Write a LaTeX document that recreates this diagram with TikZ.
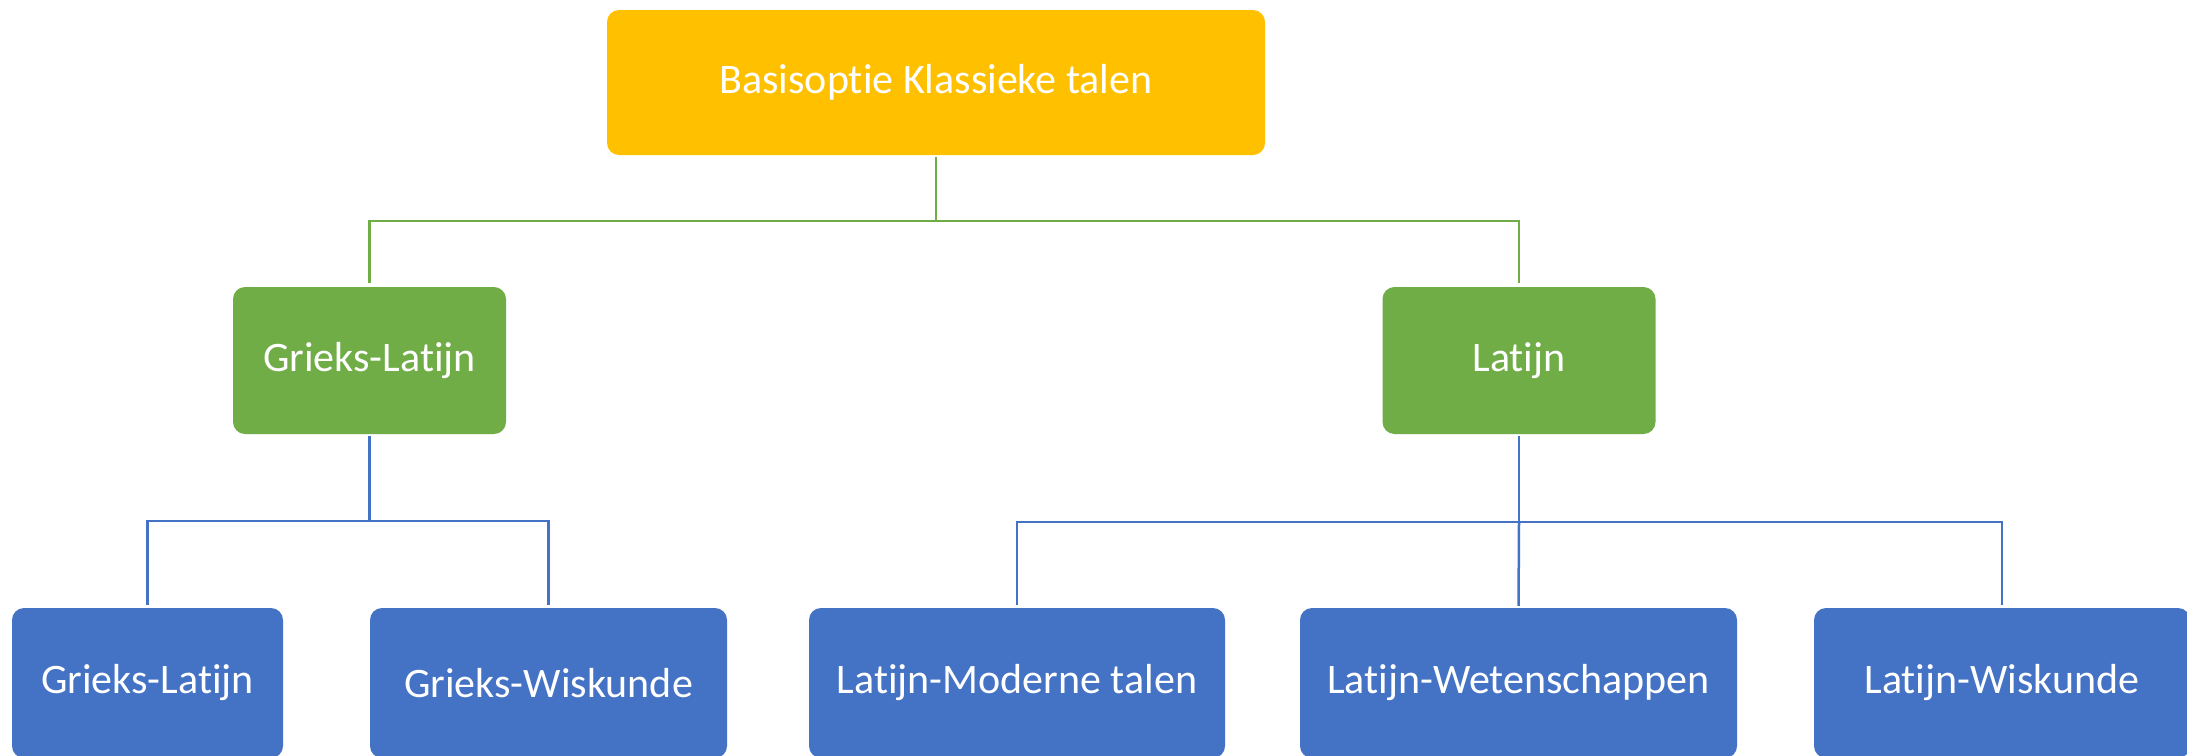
\documentclass[tikz,border=0pt]{standalone}
\usepackage{fontspec}
\setmainfont{Carlito}[RawFeature={-liga;-clig;-calt;-dlig}]
\definecolor{gold}{HTML}{FFC000}
\definecolor{leaf}{HTML}{70AD47}
\definecolor{sky}{HTML}{4472C4}
\tikzset{
  box/.style={rectangle, rounded corners=12pt, text=white, inner sep=0pt,
    font=\fontsize{42}{50}\selectfont, anchor=center},
  topbox/.style={box, fill=gold},
  midbox/.style={box, fill=leaf},
  lowbox/.style={box, fill=sky},
  gline/.style={draw=leaf, line width=2.5pt},
  bline/.style={draw=sky, line width=2.5pt}
}
\begin{document}
\begin{tikzpicture}[x=1pt,y=-1pt]
\clip (0,0) rectangle (2187,755);
\fill[white] (0,0) rectangle (2187,755);
\node[topbox, minimum width=658pt, minimum height=145pt] (top) at (936,82.5) {Basisoptie Klassieke talen};
\node[midbox, minimum width=273pt, minimum height=147pt] (gl) at (369.5,360.5) {Grieks-Latijn};
\node[midbox, minimum width=273pt, minimum height=147pt] (la) at (1519,360.5) {Latijn};
\node[lowbox, minimum width=271pt, minimum height=150pt] (b1) at (147.5,683) {Grieks-Latijn};
\node[lowbox, minimum width=357pt, minimum height=150pt] (b2) at (548.5,683) {Grieks-Wiskunde};
\node[lowbox, minimum width=416pt, minimum height=150pt] (b3) at (1017,683) {Latijn-Moderne talen};
\node[lowbox, minimum width=437pt, minimum height=150pt] (b4) at (1518.5,683) {Latijn-Wetenschappen};
\node[lowbox, minimum width=376pt, minimum height=150pt] (b5) at (2002,683) {Latijn-Wiskunde};
\coordinate (jt) at (936,221);
\coordinate (jg) at (369.5,521);
\coordinate (jl) at (1519,522);
\draw[gline, shorten <=2pt] (top.south) -- (jt);
\draw[gline, shorten >=4pt] (jt) -| (gl.north);
\draw[gline, shorten >=4pt] (jt) -| (la.north);
\draw[bline, shorten <=2pt] (gl.south) -- (jg);
\draw[bline, shorten >=3pt] (jg) -| (b1.north);
\draw[bline, shorten >=3pt] (jg) -| (b2.north);
\draw[bline, shorten <=2pt] (la.south) -- (jl);
\draw[bline, shorten >=2pt] (jl) -- (b4.north);
\draw[bline, shorten >=3pt] (jl) -| (b3.north);
\draw[bline, shorten >=3pt] (jl) -| (b5.north);
\end{tikzpicture}
\end{document}
